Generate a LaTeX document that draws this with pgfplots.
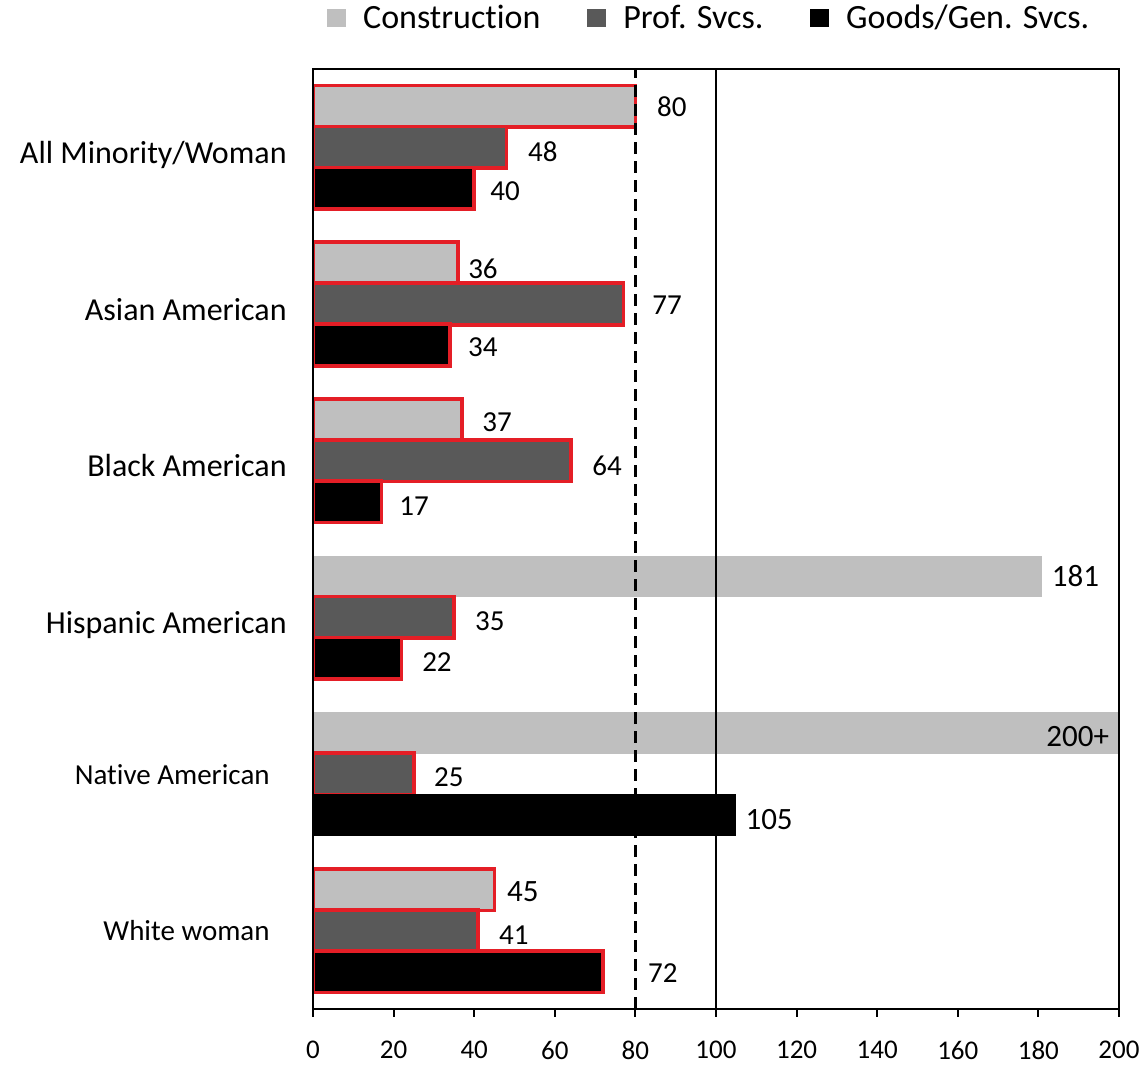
\documentclass[border=0pt]{standalone}
\usepackage{pgfplots}
\pgfplotsset{compat=1.18}
\usepackage{fontspec}
\setmainfont{Carlito}[Ligatures=NoCommon]

\definecolor{consgray}{RGB}{191,191,191}
\definecolor{profgray}{RGB}{89,89,89}
\definecolor{flagred}{RGB}{228,30,38}

\newcommand\vlab{\fontsize{14.5}{17}\selectfont}
\newcommand\vbig{\fontsize{15.5}{18}\selectfont}
% smaller category names, set a little further from the axis
\newcommand\smallcat[1]{\raisebox{3pt}{\fontsize{14.5}{14.5}\selectfont #1}\rule{8.5pt}{0pt}}

\pgfplotsset{
  barbase/.style={
    xbar, bar width=0.265, bar shift=0pt,
    legend image code/.code={\fill[##1,draw=none] (0pt,-4.5pt) rectangle (9.5pt,4.5pt);
      \path (15pt,0pt);},
    point meta=explicit symbolic,
    nodes near coords,
    nodes near coords style={anchor=west, inner sep=0pt, text=black, font=\vlab},
  },
  % label offset (pt) from the end of the bar
  lab/.style 2 args={nodes near coords style={xshift=#1pt, yshift=#2pt}},
  big/.style={nodes near coords style={font=\vbig}},
  flagged/.style={draw=flagred, line width=1.8pt},
  plain/.style={draw=none},
  cons/.style={barbase, fill=consgray},
  prof/.style={barbase, fill=profgray},
  goods/.style={barbase, fill=black},
}

\begin{document}
\begin{tikzpicture}
\begin{axis}[
  name=ax,
  scale only axis, width=403pt, height=470pt,
  xmin=0, xmax=200, ymin=-0.5, ymax=5.5,
  axis on top,
  axis line style={black, line width=1pt},
  xtick={0,20,...,200},
  ytick={0,...,5},
  yticklabels={
    {\smallcat{White woman}},
    {\smallcat{Native American}},
    {Hispanic American},
    {Black American},
    {Asian American},
    {All Minority/Woman}},
  tick align=outside, major tick length=4pt,
  xtick pos=lower, ytick pos=left,
  xtick style={black, line width=1pt},
  ytick style={draw=none},
  /pgf/number format/assume math mode=true,
  xticklabel style={font=\fontsize{13.5}{13.5}\selectfont, yshift=-8.5pt},
  yticklabel style={font=\fontsize{16}{16}\selectfont, inner sep=0pt, xshift=-9pt,
    text height=16.3pt, text depth=0pt},
  legend columns=3,
  legend style={at={(axis description cs:0.493,1)}, anchor=center, yshift=25.5pt,
    draw=none, fill=none, font=\fontsize{17}{17}\selectfont,
    /tikz/every even column/.append style={column sep=21.5pt}},
]
% All Minority/Woman (one series per industry; legend from these three)
\addplot[cons, flagged, lab={10}{0}] coordinates {(80,5.262) [80]};
\addlegendentry{Construction}
\addplot[prof, flagged, lab={10}{-2.2}] coordinates {(48,5) [48]};
\addlegendentry{Prof. Svcs.}
\addplot[goods, flagged, lab={7.2}{-1.5}] coordinates {(40,4.738) [40]};
\addlegendentry{Goods/Gen. Svcs.}
% Asian American
\addplot[cons, flagged, forget plot, lab={4.2}{-2.7}] coordinates {(36,4.262) [36]};
\addplot[prof, flagged, forget plot, lab={13.6}{-0.5}] coordinates {(77,4) [77]};
\addplot[goods, flagged, forget plot, lab={8.2}{-1.2}] coordinates {(34,3.738) [34]};
% Black American
\addplot[cons, flagged, forget plot, lab={9.2}{-1.5}] coordinates {(37,3.262) [37]};
\addplot[prof, flagged, forget plot, lab={9.8}{-2.7}] coordinates {(64,3) [64]};
\addplot[goods, flagged, forget plot, lab={8}{-2.2}] coordinates {(17,2.738) [17]};
% Hispanic American
\addplot[cons, plain, forget plot, big, lab={4.5}{0}] coordinates {(181,2.262) [181]};
\addplot[prof, flagged, forget plot, lab={9.7}{-1.7}] coordinates {(35,2) [35]};
\addplot[goods, flagged, forget plot, lab={9.4}{-1.7}] coordinates {(22,1.738) [22]};
% Native American
\addplot[cons, plain, forget plot, big, lab={-36.5}{-1.7}] coordinates {(200,1.262) [200+]};
\addplot[prof, flagged, forget plot, lab={9.3}{-1.7}] coordinates {(25,1) [25]};
\addplot[goods, plain, forget plot, big, lab={4.5}{-2.5}] coordinates {(105,0.738) [105]};
% White woman
\addplot[cons, flagged, forget plot, big, lab={5.5}{-1}] coordinates {(45,0.262) [45]};
\addplot[prof, flagged, forget plot, lab={9.6}{-2.5}] coordinates {(41,0) [41]};
\addplot[goods, flagged, forget plot, lab={21.6}{-0.5}] coordinates {(72,-0.262) [72]};
% 80% threshold and parity line
\addplot[forget plot, sharp plot, black, line width=1.4pt, dash pattern=on 6pt off 3.5pt] coordinates {(80,-0.5) (80,5.5)};
\addplot[forget plot, sharp plot, black, line width=1pt] coordinates {(100,-0.5) (100,5.5)};
\end{axis}
\pgfresetboundingbox
\path ([xshift=-156.5pt,yshift=-29.5pt]ax.south west) rectangle ([xshift=14.5pt,yshift=34.5pt]ax.north east);
\end{tikzpicture}
\end{document}
